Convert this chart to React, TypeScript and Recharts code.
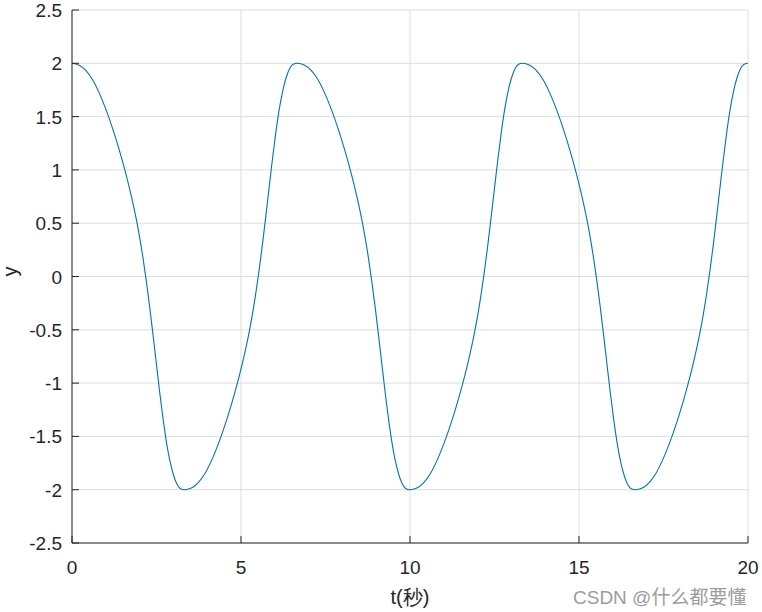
import React from 'react';
import { LineChart, Line, XAxis, YAxis, CartesianGrid, Label } from 'recharts';

// time samples (s)
const tValues = [
  0.0, 0.2, 0.4, 0.6, 0.8, 1.0, 1.2, 1.4, 1.6, 1.75, 1.9, 2.0, 2.1, 2.2, 2.3, 2.4, 2.5, 2.6, 2.7, 2.8, 2.9, 3.0, 3.1, 3.2, 3.33,
  3.53, 3.73, 3.93, 4.13, 4.33, 4.53, 4.73, 4.93, 5.08, 5.23, 5.33, 5.43, 5.53, 5.63, 5.73, 5.83, 5.93, 6.03, 6.13, 6.23, 6.33, 6.43, 6.53, 6.67,
  6.87, 7.07, 7.27, 7.47, 7.67, 7.87, 8.07, 8.27, 8.42, 8.57, 8.67, 8.77, 8.87, 8.97, 9.07, 9.17, 9.27, 9.37, 9.47, 9.57, 9.67, 9.77, 9.87, 10.0,
  10.2, 10.4, 10.6, 10.8, 11.0, 11.2, 11.4, 11.6, 11.75, 11.9, 12.0, 12.1, 12.2, 12.3, 12.4, 12.5, 12.6, 12.7, 12.8, 12.9, 13.0, 13.1, 13.2, 13.33,
  13.53, 13.73, 13.93, 14.13, 14.33, 14.53, 14.73, 14.93, 15.08, 15.23, 15.33, 15.43, 15.53, 15.63, 15.73, 15.83, 15.93, 16.03, 16.13, 16.23, 16.33, 16.43, 16.53, 16.67,
  16.87, 17.07, 17.27, 17.47, 17.67, 17.87, 18.07, 18.27, 18.42, 18.57, 18.67, 18.77, 18.87, 18.97, 19.07, 19.17, 19.27, 19.37, 19.47, 19.57, 19.67, 19.77, 19.87, 20.0,
];

const yValues = [
  2.0, 1.985, 1.935, 1.85, 1.725, 1.57, 1.39, 1.185, 0.955, 0.76, 0.54, 0.37, 0.175, -0.045, -0.29, -0.555, -0.83, -1.1, -1.35, -1.565, -1.735, -1.86, -1.945, -1.988, -2.0,
  -1.985, -1.935, -1.85, -1.725, -1.57, -1.39, -1.185, -0.955, -0.76, -0.54, -0.37, -0.175, 0.045, 0.29, 0.555, 0.83, 1.1, 1.35, 1.565, 1.735, 1.86, 1.945, 1.988, 2.0,
  1.985, 1.935, 1.85, 1.725, 1.57, 1.39, 1.185, 0.955, 0.76, 0.54, 0.37, 0.175, -0.045, -0.29, -0.555, -0.83, -1.1, -1.35, -1.565, -1.735, -1.86, -1.945, -1.988, -2.0,
  -1.985, -1.935, -1.85, -1.725, -1.57, -1.39, -1.185, -0.955, -0.76, -0.54, -0.37, -0.175, 0.045, 0.29, 0.555, 0.83, 1.1, 1.35, 1.565, 1.735, 1.86, 1.945, 1.988, 2.0,
  1.985, 1.935, 1.85, 1.725, 1.57, 1.39, 1.185, 0.955, 0.76, 0.54, 0.37, 0.175, -0.045, -0.29, -0.555, -0.83, -1.1, -1.35, -1.565, -1.735, -1.86, -1.945, -1.988, -2.0,
  -1.985, -1.935, -1.85, -1.725, -1.57, -1.39, -1.185, -0.955, -0.76, -0.54, -0.37, -0.175, 0.045, 0.29, 0.555, 0.83, 1.1, 1.35, 1.565, 1.735, 1.86, 1.945, 1.988, 2.0,
];

const xTicks = [0, 5, 10, 15, 20];
const yTicks = [-2.5, -2, -1.5, -1, -0.5, 0, 0.5, 1, 1.5, 2, 2.5];

const data = tValues.map((t, i) => ({ t, y: yValues[i] }));

const AXIS = '#262626';
const FONT = '"Liberation Sans", Arial, sans-serif';
const TICK_LEN = 7;

// MATLAB style: ticks point into the plot box
const LeftTick = (props: any) => {
  const { x, y, payload } = props;
  return (
    <g>
      <line x1={x} y1={y} x2={x + TICK_LEN} y2={y} stroke={AXIS} />
      <text x={x - 10} y={y + 7} textAnchor="end" fill={AXIS} fontSize={19} fontFamily={FONT}>
        {String(payload.value)}
      </text>
    </g>
  );
};

const RightTick = (props: any) => {
  const { x, y } = props;
  return <line x1={x} y1={y} x2={x - TICK_LEN} y2={y} stroke={AXIS} />;
};

const BottomTick = (props: any) => {
  const { x, y, payload } = props;
  return (
    <g>
      <line x1={x} y1={y} x2={x} y2={y - TICK_LEN} stroke={AXIS} />
      <text x={x} y={y + 31} textAnchor="middle" fill={AXIS} fontSize={19} fontFamily={FONT}>
        {String(payload.value)}
      </text>
    </g>
  );
};

const TopTick = (props: any) => {
  const { x, y } = props;
  return <line x1={x} y1={y} x2={x} y2={y + TICK_LEN} stroke={AXIS} />;
};

export default function App() {
  return (
    <div style={{ position: 'absolute', left: 0, top: 0, width: 762, height: 612, background: '#fff', fontFamily: FONT }}>
      <LineChart width={762} height={612} data={data} margin={{ top: 10, right: 14, bottom: 0, left: 0 }}>
        <CartesianGrid stroke="#dedede" strokeWidth={1} />
        <XAxis
          dataKey="t"
          type="number"
          domain={[0, 20]}
          ticks={xTicks}
          interval={0}
          height={69}
          tickSize={0}
          tickMargin={0}
          tickLine={false}
          axisLine={{ stroke: AXIS }}
          tick={<BottomTick />}
        >
          <Label value="t(秒)" position="insideBottom" offset={8} fill={AXIS} fontSize={20} fontFamily={FONT} />
        </XAxis>
        <XAxis
          xAxisId="top"
          orientation="top"
          dataKey="t"
          type="number"
          domain={[0, 20]}
          ticks={xTicks}
          interval={0}
          height={0}
          tickSize={0}
          tickMargin={0}
          tickLine={false}
          axisLine={{ stroke: AXIS }}
          tick={<TopTick />}
        />
        <YAxis
          type="number"
          domain={[-2.5, 2.5]}
          ticks={yTicks}
          interval={0}
          width={72}
          tickSize={0}
          tickMargin={0}
          tickLine={false}
          axisLine={{ stroke: AXIS }}
          tick={<LeftTick />}
        >
          <Label value="y" angle={-90} position="insideLeft" offset={10} fill={AXIS} fontSize={20} fontFamily={FONT} />
        </YAxis>
        <YAxis
          yAxisId="right"
          orientation="right"
          type="number"
          domain={[-2.5, 2.5]}
          ticks={yTicks}
          interval={0}
          width={0}
          tickSize={0}
          tickMargin={0}
          tickLine={false}
          axisLine={{ stroke: AXIS }}
          tick={<RightTick />}
        />
        <Line
          type="monotone"
          dataKey="y"
          stroke="#0072BD"
          strokeWidth={1.1}
          dot={false}
          isAnimationActive={false}
        />
      </LineChart>
      <div
        style={{
          position: 'absolute',
          left: 573,
          top: 582,
          fontSize: 19,
          color: '#9c9c9c',
          fontFamily: '"Liberation Sans", "Noto Sans CJK SC", sans-serif',
          whiteSpace: 'nowrap',
        }}
      >
        CSDN @什么都要懂
      </div>
    </div>
  );
}
